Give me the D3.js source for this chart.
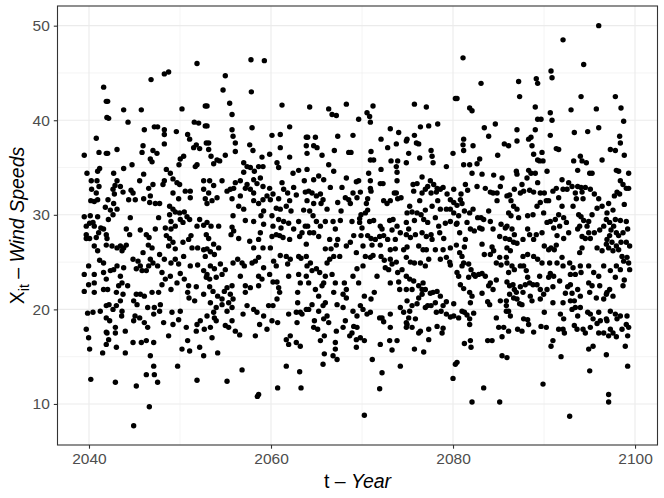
<!DOCTYPE html>
<html>
<head>
<meta charset="utf-8">
<script src="https://cdn.jsdelivr.net/npm/d3@7/dist/d3.min.js"></script>
<style>
  body { margin: 0; background: #fff; }
  text { font-family: "Liberation Sans", Arial, sans-serif; }
</style>
</head>
<body>
<div id="chart"></div>
<script>
// axis breaks
var xTicks = [2040, 2060, 2080, 2100];
var xMinor = [2050, 2070, 2090];
var yTicks = [10, 20, 30, 40, 50];
var yMinor = [15, 25, 35, 45];

var windPoints = [
  [2041.61,43.5],[2041.9,42.0],[2041.97,40.3],[2040.8,38.1],[2039.48,36.3],[2041.1,36.6],[2041.9,36.5],
  [2039.78,34.4],[2040.95,34.6],[2041.17,34.9],[2040.25,33.6],[2040.88,33.6],[2040.29,32.7],[2041.1,33.0],
  [2040.8,32.3],[2040.2,31.5],[2040.58,31.4],[2040.95,31.6],[2041.8,30.8],[2039.48,29.8],[2040.14,29.9],
  [2040.95,29.8],[2040.44,29.2],[2040.07,29.1],[2040.58,28.8],[2039.7,28.8],[2041.3,28.6],[2041.06,28.1],
  [2039.7,27.9],[2039.7,27.5],[2040.07,27.5],[2040.8,27.6],[2041.9,27.9],[2041.6,28.5],[2041.9,26.8],
  [2040.58,26.7],[2040.95,26.2],[2041.17,25.2],[2041.6,24.9],[2039.96,24.6],[2039.48,23.7],[2040.58,23.7],
  [2041.6,23.9],[2041.9,23.2],[2040.58,22.8],[2039.96,22.6],[2039.48,21.9],[2040.58,21.8],[2041.6,22.1],
  [2041.9,20.4],[2041.24,19.8],[2040.44,19.7],[2039.85,19.6],[2041.9,19.1],[2039.7,17.9],[2041.9,17.6],
  [2039.96,17.0],[2041.9,16.3],[2040.07,15.8],[2041.5,15.4],[2040.2,12.6],
  [2046.82,44.3],[2042.05,42.0],[2043.81,41.1],[2045.75,41.1],[2042.16,40.2],[2044.29,39.8],[2046.08,39.0],
  [2047.18,39.3],[2042.05,36.5],[2043.08,36.9],[2045.94,37.3],[2045.83,36.6],[2047.03,36.8],[2046.74,35.9],
  [2044.73,35.3],[2043.81,34.9],[2046.93,35.6],[2042.71,34.4],[2046.01,34.3],[2043.08,33.6],[2042.86,33.1],
  [2043.45,33.0],[2045.57,33.6],[2042.64,32.7],[2047.03,33.2],[2046.56,32.8],[2042.79,32.2],[2043.74,32.4],
  [2044.62,32.6],[2044.84,32.3],[2046.74,32.0],[2042.09,31.6],[2044.36,31.6],[2045.09,31.6],[2046.01,31.7],
  [2046.67,31.3],[2047.29,31.2],[2042.71,31.2],[2042.35,30.5],[2043.08,30.6],[2042.64,30.0],[2044.54,29.7],
  [2042.13,29.5],[2044.1,28.5],[2044.47,27.9],[2045.64,28.4],[2046.3,27.9],[2047.29,28.5],[2046.6,27.6],
  [2041.98,27.5],[2042.53,26.7],[2043.45,26.7],[2043.08,26.5],[2043.81,26.5],[2044.1,26.8],[2043.63,26.2],
  [2046.52,26.8],[2046.93,26.5],[2045.94,26.0],[2045.39,25.1],[2046.74,25.3],[2047.03,24.9],[2046.56,24.6],
  [2045.64,24.6],[2044.84,25.3],[2045.2,24.3],[2043.08,24.6],[2043.81,24.4],[2042.35,24.1],[2042.71,24.2],
  [2045.83,24.1],[2046.3,24.1],[2043.45,23.5],[2043.63,22.8],[2044.25,22.5],[2043.26,22.5],[2042.05,22.1],
  [2043.01,21.8],[2043.74,21.6],[2043.45,20.9],[2045.2,21.6],[2045.64,21.6],[2046.93,21.8],[2046.08,21.4],
  [2042.2,20.5],[2042.64,20.0],[2043.01,20.4],[2043.63,19.8],[2044.91,20.9],[2045.28,20.5],[2046.45,20.2],
  [2047.18,20.2],[2043.59,19.3],[2045.06,19.3],[2045.57,19.1],[2044.91,18.8],[2046.08,18.6],[2047.11,19.5],
  [2046.45,18.1],[2042.27,18.8],[2042.9,18.1],[2041.98,17.5],[2042.9,17.5],[2043.99,17.7],[2042.16,16.8],
  [2044.84,16.5],[2045.75,16.5],[2046.3,16.7],[2047.11,16.5],[2043.01,16.0],[2043.99,15.4],[2046.74,15.1],
  [2047.11,14.0],[2046.3,13.1],[2042.9,12.3],[2045.2,11.9],[2047.18,13.1],[2046.63,9.7],[2044.91,7.7],
  [2051.87,46.0],[2048.28,44.9],[2048.75,45.1],[2050.22,41.2],[2052.78,41.5],[2047.54,39.3],[2048.28,39.0],
  [2049.6,38.8],[2051.57,39.8],[2052.05,39.7],[2052.78,39.4],[2048.28,38.5],[2048.28,37.5],[2050.84,38.5],
  [2051.06,38.0],[2051.79,37.4],[2051.5,37.1],[2052.16,37.0],[2052.89,37.6],[2047.47,36.5],[2050.4,36.2],
  [2050.03,35.9],[2049.89,35.3],[2051.87,35.3],[2051.68,35.1],[2048.5,34.8],[2048.94,34.4],[2049.23,33.8],
  [2049.96,33.2],[2049.67,33.4],[2048.28,33.6],[2048.13,33.2],[2052.6,33.6],[2052.6,32.7],[2052.78,31.7],
  [2049.23,32.3],[2050.58,32.5],[2051.13,32.5],[2049.85,31.7],[2051.13,31.8],[2047.76,31.2],[2048.86,30.9],
  [2049.23,30.6],[2048.86,30.0],[2049.48,30.3],[2049.96,30.2],[2050.47,30.3],[2050.77,29.8],[2050.03,29.5],
  [2047.65,29.7],[2049.01,29.3],[2048.39,28.6],[2049.01,28.5],[2049.48,28.8],[2050.33,29.2],[2051.06,29.5],
  [2052.16,29.5],[2051.87,28.8],[2052.6,28.9],[2052.89,27.9],[2048.5,27.8],[2048.86,27.5],[2049.23,27.1],
  [2048.75,26.7],[2049.48,26.4],[2050.33,27.1],[2050.95,27.4],[2051.21,27.8],[2051.32,26.5],[2051.94,26.5],
  [2052.6,26.3],[2052.78,25.6],[2047.76,25.8],[2048.28,25.3],[2049.01,24.9],[2049.48,25.3],[2049.85,24.8],
  [2050.4,25.6],[2051.13,24.6],[2051.94,24.7],[2052.6,24.1],[2052.89,23.4],[2047.54,24.6],[2048.02,23.9],
  [2048.39,23.2],[2048.94,23.5],[2050.03,23.8],[2049.67,22.8],[2050.47,23.2],[2050.95,22.5],[2051.79,22.4],
  [2048.02,22.6],[2049.01,22.1],[2050.84,21.8],[2047.65,21.8],[2050.99,21.2],[2051.61,20.9],[2052.6,21.6],
  [2047.84,20.5],[2047.76,19.8],[2049.12,19.7],[2050.03,19.8],[2048.2,18.6],[2049.23,18.4],[2049.85,18.9],
  [2050.69,18.1],[2048.75,17.2],[2052.23,18.8],[2051.87,18.4],[2051.79,17.7],[2052.67,17.9],[2050.84,16.7],
  [2051.06,15.6],[2052.16,16.0],[2050.22,15.8],[2052.6,15.1],[2049.74,14.0],[2051.87,12.5],[2047.54,12.3],
  [2057.8,46.4],[2054.98,44.7],[2054.73,43.2],[2057.84,43.0],[2055.46,41.8],[2055.72,40.6],[2052.97,41.5],
  [2057.92,39.2],[2052.97,39.4],[2055.72,39.0],[2055.83,38.3],[2057.66,37.4],[2056.08,37.6],[2058.02,36.8],
  [2053.15,37.6],[2053.15,36.9],[2053.41,36.2],[2054.98,36.3],[2056.08,36.7],[2054.07,35.8],[2053.7,35.4],
  [2054.36,35.7],[2057.0,35.5],[2057.37,35.1],[2057.73,35.0],[2057.0,34.5],[2058.17,34.6],[2053.26,33.6],
  [2054.62,33.6],[2056.63,33.6],[2056.08,33.4],[2057.37,33.2],[2058.1,33.7],[2055.9,32.8],[2055.53,32.7],
  [2055.17,32.5],[2057.73,32.7],[2057.18,32.8],[2058.1,32.3],[2053.7,33.1],[2053.15,32.3],[2054.07,31.8],
  [2053.52,31.5],[2052.97,31.2],[2056.63,32.0],[2055.72,31.7],[2056.45,30.9],[2057.0,30.6],[2058.1,31.5],
  [2055.83,29.9],[2057.18,29.4],[2058.1,29.3],[2052.97,29.2],[2053.41,28.8],[2054.25,28.8],[2055.72,28.7],
  [2055.9,28.3],[2055.61,27.9],[2056.45,27.5],[2057.66,27.2],[2058.1,26.5],[2053.15,27.5],[2053.7,26.9],
  [2054.25,26.5],[2052.97,26.4],[2053.34,26.1],[2053.78,25.8],[2055.83,24.9],[2056.34,25.3],[2056.82,24.9],
  [2057.07,24.6],[2057.92,24.9],[2058.28,25.1],[2054.44,24.8],[2054.98,24.2],[2054.62,23.7],[2053.34,24.6],
  [2053.78,24.3],[2052.97,23.7],[2053.26,23.2],[2053.98,23.4],[2056.63,23.5],[2057.18,22.5],[2057.73,22.3],
  [2057.18,21.8],[2055.72,22.5],[2055.17,22.3],[2053.26,22.4],[2053.63,21.9],[2054.14,21.4],[2054.87,21.9],
  [2055.53,21.6],[2055.83,21.1],[2055.35,20.7],[2054.62,21.1],[2053.34,20.7],[2053.98,20.2],[2054.62,20.5],
  [2055.72,20.2],[2057.37,20.4],[2058.1,20.0],[2053.7,19.7],[2055.17,19.8],[2056.93,19.5],[2052.97,19.3],
  [2053.78,19.1],[2053.98,18.8],[2054.98,18.3],[2055.35,18.1],[2055.72,18.8],[2053.34,18.1],[2056.08,17.7],
  [2056.56,17.3],[2053.52,17.0],[2054.14,15.4],[2056.82,13.6],[2055.17,12.4],[2058.28,17.2],
  [2059.27,46.3],[2061.21,41.6],[2060.11,38.4],[2061.02,38.5],[2062.05,39.3],[2063.88,38.2],[2061.02,37.1],
  [2062.05,36.1],[2059.85,36.4],[2059.01,36.1],[2058.64,35.1],[2059.12,35.1],[2060.66,35.5],[2060.84,35.0],
  [2063.88,37.3],[2062.42,34.4],[2063.04,34.7],[2063.66,33.6],[2058.83,33.9],[2058.46,33.3],[2059.12,33.0],
  [2059.85,32.8],[2060.22,32.2],[2059.56,32.0],[2061.21,33.4],[2061.39,32.7],[2062.49,32.9],[2062.78,32.1],
  [2061.83,32.3],[2063.77,32.4],[2058.64,31.2],[2059.12,31.6],[2059.93,31.6],[2060.84,31.7],[2060.58,30.7],
  [2061.02,30.6],[2062.05,31.5],[2061.68,30.9],[2062.2,30.4],[2063.59,30.5],[2059.19,30.4],[2058.9,29.9],
  [2060.11,29.9],[2060.84,29.5],[2061.39,29.3],[2059.19,29.0],[2060.22,28.8],[2061.1,28.6],[2061.94,29.1],
  [2062.49,28.5],[2063.04,29.3],[2063.41,28.1],[2063.77,28.8],[2058.83,28.1],[2058.64,27.4],[2060.11,27.7],
  [2060.58,27.9],[2060.95,27.8],[2061.32,27.6],[2062.05,27.4],[2063.15,27.7],[2063.88,26.9],[2059.93,26.5],
  [2059.12,26.5],[2058.64,25.5],[2061.02,25.7],[2061.68,25.6],[2062.12,25.3],[2061.83,24.8],[2063.04,25.6],
  [2063.3,25.4],[2063.88,25.6],[2060.29,25.1],[2060.58,24.6],[2059.19,24.4],[2059.85,23.7],[2058.64,23.5],
  [2059.01,23.2],[2060.22,22.9],[2060.66,22.9],[2061.94,23.5],[2063.04,23.7],[2063.22,22.8],[2063.88,23.5],
  [2058.64,22.5],[2060.84,22.3],[2060.95,21.8],[2062.93,21.8],[2060.66,21.1],[2062.93,20.7],[2062.78,19.7],
  [2058.46,19.7],[2059.19,19.3],[2058.75,18.4],[2059.56,17.9],[2060.11,18.8],[2060.73,18.6],[2059.74,20.4],
  [2060.22,20.4],[2061.94,19.5],[2062.86,18.6],[2063.22,19.7],[2063.41,19.5],[2061.68,16.8],[2062.12,17.2],
  [2061.94,16.3],[2062.78,16.5],[2063.22,16.1],[2061.68,14.0],[2063.15,13.4],[2060.73,11.7],[2063.3,11.7],
  [2058.64,11.0],[2058.5,10.8],[2063.88,20.0],
  [2066.34,41.2],[2066.71,40.6],[2067.18,40.5],[2068.28,41.7],[2064.25,41.4],[2064.03,38.2],[2064.88,38.2],
  [2067.33,38.3],[2069.01,38.4],[2064.69,37.3],[2065.06,37.1],[2063.96,36.5],[2065.61,36.3],[2066.34,35.3],
  [2066.89,34.6],[2066.96,36.8],[2068.54,36.6],[2068.79,36.6],[2063.96,34.8],[2064.69,33.7],[2065.24,34.1],
  [2065.79,33.7],[2066.52,32.9],[2068.28,33.9],[2067.8,32.9],[2069.38,33.5],[2064.14,32.5],[2064.51,32.3],
  [2064.99,32.0],[2065.43,32.2],[2065.72,31.6],[2068.54,31.6],[2068.17,31.8],[2069.01,32.3],[2063.96,31.5],
  [2064.69,31.2],[2065.5,31.2],[2066.16,30.6],[2067.33,31.3],[2068.72,31.2],[2067.7,30.4],[2064.25,30.4],
  [2064.62,29.9],[2064.99,29.3],[2065.43,28.8],[2065.97,29.3],[2066.82,29.3],[2067.62,29.4],[2068.9,29.3],
  [2064.03,28.8],[2064.25,28.1],[2064.69,28.1],[2065.24,27.7],[2067.07,28.5],[2066.45,27.4],[2067.33,27.4],
  [2068.28,26.7],[2068.72,27.1],[2069.09,27.8],[2069.38,26.0],[2065.97,26.4],[2066.6,26.4],[2067.18,26.8],
  [2066.89,25.6],[2067.55,25.6],[2066.16,24.9],[2066.45,25.3],[2064.33,24.9],[2063.96,24.6],[2064.51,24.1],
  [2064.99,24.3],[2065.35,23.9],[2065.97,23.5],[2065.79,22.8],[2066.71,23.7],[2067.07,22.8],[2068.06,22.8],
  [2068.28,22.1],[2069.01,23.5],[2064.14,22.8],[2064.88,22.1],[2065.61,22.5],[2065.24,21.4],[2066.89,21.8],
  [2067.92,21.6],[2068.28,21.2],[2065.97,20.7],[2064.51,20.5],[2065.72,20.4],[2065.24,19.8],[2067.26,20.5],
  [2067.92,20.2],[2069.01,19.8],[2066.16,19.3],[2065.79,19.0],[2064.14,20.0],[2064.77,18.8],[2065.13,17.9],
  [2064.69,18.1],[2066.34,18.6],[2068.17,18.8],[2067.92,18.1],[2069.09,18.2],[2068.9,17.5],[2068.65,17.2],
  [2067.18,17.7],[2067.07,16.5],[2065.86,17.2],[2065.43,16.7],[2065.86,15.3],[2065.72,14.2],[2066.82,15.1],
  [2067.26,14.7],[2067.07,15.8],[2069.38,16.0],[2069.38,16.8],
  [2071.21,41.5],[2070.55,40.8],[2070.84,40.4],[2070.92,39.8],[2069.63,40.1],[2073.11,39.1],[2074.03,38.7],
  [2072.09,38.0],[2072.82,37.1],[2073.77,37.5],[2074.87,37.8],[2070.99,36.7],[2070.92,35.8],[2071.28,35.8],
  [2072.09,34.8],[2073.19,35.7],[2073.92,35.7],[2073.77,35.1],[2073.85,34.5],[2074.87,35.5],[2070.73,34.4],
  [2070.92,33.6],[2072.01,33.3],[2072.31,33.3],[2073.85,33.6],[2069.63,33.6],[2070.92,32.8],[2070.99,32.5],
  [2069.82,32.4],[2069.45,31.8],[2073.55,32.3],[2073.77,32.3],[2073.92,31.7],[2074.29,31.8],[2070.62,31.7],
  [2070.48,31.2],[2072.38,31.5],[2072.75,31.2],[2073.11,31.5],[2070.62,30.5],[2070.37,30.2],[2069.89,30.0],
  [2069.74,29.6],[2069.74,29.2],[2070.0,28.6],[2070.84,29.3],[2071.28,29.4],[2072.01,28.8],[2072.2,28.5],
  [2073.04,29.4],[2073.41,29.5],[2073.85,28.8],[2073.3,28.4],[2074.87,29.2],[2069.89,27.8],[2070.62,27.8],
  [2070.99,27.5],[2071.46,27.4],[2071.94,27.7],[2072.38,27.8],[2072.82,27.4],[2073.66,27.4],[2074.21,28.1],
  [2074.87,27.9],[2070.11,26.7],[2071.1,26.8],[2072.01,26.8],[2073.11,26.3],[2073.66,26.4],[2074.58,26.3],
  [2070.37,25.6],[2070.92,25.5],[2071.21,25.7],[2072.09,25.6],[2072.45,25.2],[2073.11,25.3],[2073.3,24.8],
  [2073.77,25.0],[2074.87,25.5],[2070.11,24.6],[2069.45,24.3],[2072.56,24.4],[2072.93,24.2],[2073.92,23.9],
  [2074.4,24.2],[2071.65,23.5],[2073.11,22.8],[2074.03,22.9],[2074.87,23.5],[2069.63,22.8],[2074.14,22.1],
  [2070.26,21.4],[2070.99,21.1],[2071.35,21.8],[2074.87,22.1],[2069.82,20.4],[2070.11,20.0],[2070.92,19.7],
  [2070.55,19.5],[2071.94,19.1],[2073.11,19.5],[2074.21,20.2],[2074.58,19.7],[2074.87,18.6],[2074.87,18.1],
  [2069.45,19.3],[2069.45,18.1],[2072.38,18.7],[2072.2,19.1],[2073.11,18.1],[2069.82,17.0],[2070.26,16.7],
  [2073.04,16.7],[2073.3,15.7],[2073.85,16.7],[2072.01,16.3],[2071.13,14.7],[2072.2,13.3],[2074.21,14.0],
  [2071.94,11.6],[2070.26,8.8],
  [2075.76,41.7],[2077.07,41.4],[2080.26,42.3],[2076.42,39.3],[2077.33,39.4],[2078.32,39.6],[2074.95,38.0],
  [2075.76,38.4],[2075.98,37.6],[2076.23,37.5],[2075.13,36.5],[2076.34,36.0],[2077.59,36.8],[2077.7,36.2],
  [2077.81,35.5],[2079.27,35.1],[2080.0,36.5],[2076.6,34.0],[2075.61,33.2],[2076.05,33.3],[2075.68,32.5],
  [2076.6,32.3],[2076.96,32.7],[2077.22,33.0],[2077.51,33.6],[2077.88,33.2],[2078.25,32.8],[2078.61,32.7],
  [2077.59,32.3],[2078.17,32.4],[2078.91,32.9],[2079.35,32.2],[2079.71,31.6],[2080.08,32.7],[2076.34,31.5],
  [2080.08,31.3],[2075.24,30.9],[2075.5,30.3],[2074.95,30.2],[2076.05,30.2],[2076.49,30.0],[2076.96,30.5],
  [2077.7,30.9],[2078.32,31.5],[2078.61,30.6],[2079.27,30.6],[2079.71,30.6],[2080.08,30.2],[2075.76,29.4],
  [2076.78,29.5],[2077.22,29.2],[2078.06,29.7],[2078.43,28.8],[2079.16,29.1],[2079.71,29.3],[2080.37,29.0],
  [2075.13,28.5],[2075.87,27.9],[2075.32,27.6],[2076.6,28.1],[2077.07,27.7],[2077.59,27.9],[2078.54,28.1],
  [2078.98,27.5],[2077.7,27.4],[2074.95,26.6],[2076.23,26.7],[2076.71,26.3],[2077.07,26.3],[2078.06,26.3],
  [2078.91,26.3],[2079.71,26.5],[2080.37,26.8],[2079.27,25.5],[2079.64,25.0],[2075.32,25.0],[2075.76,24.9],
  [2076.42,24.9],[2076.96,24.6],[2077.33,25.3],[2078.61,25.3],[2079.71,24.7],[2075.24,23.2],[2075.68,23.0],
  [2076.23,22.5],[2076.6,22.1],[2076.96,22.1],[2076.71,22.8],[2075.5,22.1],[2077.51,21.7],[2077.81,21.8],
  [2078.25,21.9],[2078.61,21.4],[2079.27,20.8],[2080.08,20.6],[2076.23,21.2],[2076.6,21.6],[2078.06,20.7],
  [2078.91,20.4],[2074.95,20.9],[2075.5,20.4],[2076.05,20.6],[2076.96,20.2],[2077.22,20.4],[2077.59,20.4],
  [2078.17,19.7],[2078.69,19.8],[2079.27,19.5],[2079.71,19.2],[2080.08,19.3],[2075.24,19.8],[2075.13,19.1],
  [2074.95,18.4],[2075.87,19.0],[2076.42,17.7],[2076.23,17.5],[2075.5,18.1],[2077.33,17.9],[2078.25,18.2],
  [2078.8,17.5],[2077.33,16.8],[2075.76,15.8],[2076.78,15.5],[2080.26,14.2],[2080.0,12.7],[2078.91,18.0],
  [2081.1,46.6],[2083.08,43.9],[2080.44,42.3],[2081.83,41.3],[2082.09,41.0],[2083.44,39.2],[2084.65,39.6],
  [2083.92,38.3],[2081.17,38.0],[2082.2,37.3],[2081.1,37.4],[2081.17,36.8],[2085.64,37.5],[2084.91,36.3],
  [2082.93,35.9],[2082.64,35.4],[2081.17,35.3],[2081.83,35.3],[2082.09,34.4],[2083.19,34.3],[2084.47,34.2],
  [2085.39,33.9],[2085.2,33.0],[2084.84,32.3],[2085.93,32.0],[2081.36,33.2],[2081.61,32.6],[2082.64,33.0],
  [2084.1,32.4],[2083.55,32.8],[2084.4,32.3],[2084.84,31.5],[2080.88,32.2],[2080.81,31.6],[2080.99,31.2],
  [2080.44,31.0],[2082.2,30.6],[2083.92,30.4],[2082.71,29.7],[2083.08,29.7],[2083.37,29.5],[2084.1,29.3],
  [2084.4,28.5],[2085.28,29.0],[2085.75,28.6],[2080.62,29.9],[2081.25,30.4],[2081.83,30.2],[2080.44,29.1],
  [2081.54,29.2],[2081.91,28.5],[2082.34,28.3],[2082.93,28.6],[2083.19,28.5],[2080.73,28.1],[2081.36,27.4],
  [2081.25,26.6],[2085.13,27.7],[2085.75,27.5],[2083.19,26.9],[2083.44,25.8],[2084.1,25.8],[2084.47,26.2],
  [2084.76,24.9],[2085.28,24.7],[2085.13,25.5],[2085.86,25.5],[2084.29,26.6],[2080.73,26.0],[2080.99,25.6],
  [2081.17,24.9],[2080.99,24.6],[2081.72,24.8],[2081.98,24.2],[2082.27,23.7],[2082.45,23.5],[2082.82,23.7],
  [2083.19,23.8],[2083.55,23.5],[2081.72,23.4],[2080.62,23.5],[2080.44,23.9],[2080.81,22.6],[2081.17,22.2],
  [2081.83,21.8],[2082.09,21.4],[2081.91,20.7],[2083.19,21.7],[2083.92,22.5],[2084.1,22.8],[2084.4,22.1],
  [2084.76,23.1],[2083.81,20.8],[2084.03,20.5],[2085.2,20.9],[2085.86,20.9],[2085.86,20.4],[2085.86,19.8],
  [2080.62,19.1],[2080.99,19.8],[2081.25,19.7],[2081.54,19.4],[2081.83,19.0],[2081.83,18.4],[2082.27,19.6],
  [2084.76,19.1],[2085.02,18.1],[2085.57,18.1],[2085.39,17.1],[2081.25,16.4],[2081.91,16.7],[2081.98,16.0],
  [2083.81,16.7],[2084.29,16.7],[2085.39,15.1],[2080.44,14.4],[2083.37,11.7],[2082.09,10.2],[2085.13,10.2],
  [2090.77,45.2],[2090.88,44.5],[2087.21,44.1],[2089.15,44.4],[2089.3,43.9],[2087.32,42.5],[2089.04,41.4],
  [2089.3,40.1],[2089.67,40.1],[2090.69,40.8],[2090.88,40.0],[2091.35,37.0],[2087.03,39.0],[2087.03,37.8],
  [2086.11,37.3],[2088.57,38.2],[2089.04,39.0],[2088.31,38.0],[2088.68,37.3],[2088.86,36.4],[2089.3,35.8],
  [2089.78,36.6],[2089.52,35.7],[2089.89,35.7],[2090.69,38.4],[2090.33,34.6],[2086.96,34.6],[2087.03,34.3],
  [2088.31,34.7],[2088.57,34.4],[2089.04,34.4],[2089.3,33.4],[2088.13,33.9],[2087.58,33.2],[2087.76,32.5],
  [2087.4,32.3],[2086.74,32.7],[2086.22,32.1],[2086.37,31.5],[2086.66,30.9],[2088.42,32.6],[2088.86,32.4],
  [2089.59,32.3],[2090.03,32.3],[2090.25,31.5],[2090.51,31.5],[2090.98,32.5],[2091.35,32.8],[2086.11,30.2],
  [2087.03,30.6],[2086.37,29.9],[2087.21,29.7],[2088.2,29.9],[2088.79,30.0],[2089.59,31.3],[2089.23,30.9],
  [2089.96,30.2],[2090.33,29.2],[2090.69,29.3],[2091.06,28.6],[2091.24,29.5],[2085.93,28.8],[2086.48,28.5],
  [2086.74,27.9],[2086.22,27.4],[2086.66,27.1],[2087.03,27.0],[2087.69,27.4],[2088.2,28.5],[2088.42,27.9],
  [2088.86,27.4],[2089.15,27.9],[2089.78,28.1],[2090.03,26.7],[2090.51,26.3],[2090.77,26.5],[2091.13,26.3],
  [2091.35,26.8],[2085.93,26.5],[2086.3,26.2],[2087.69,25.6],[2088.2,25.8],[2088.86,25.6],[2089.3,25.3],
  [2089.78,24.9],[2090.62,24.9],[2085.93,24.9],[2086.48,24.6],[2086.74,24.2],[2086.11,23.9],[2087.4,24.6],
  [2087.76,24.6],[2088.05,24.1],[2088.2,23.4],[2088.42,22.8],[2088.79,22.6],[2089.23,22.6],[2089.52,23.5],
  [2090.69,23.8],[2090.51,23.4],[2091.06,23.5],[2085.93,22.9],[2086.22,22.5],[2086.59,22.6],[2086.74,22.1],
  [2086.96,21.8],[2087.4,22.4],[2087.69,21.8],[2087.94,22.6],[2089.59,22.1],[2089.96,21.6],[2090.33,22.1],
  [2090.98,22.4],[2086.22,21.6],[2086.66,21.2],[2087.03,21.1],[2087.32,20.6],[2087.58,20.5],[2088.49,21.4],
  [2088.68,20.9],[2089.59,21.1],[2090.98,20.7],[2086.11,19.8],[2086.3,19.3],[2090.03,19.7],[2087.76,19.0],
  [2088.2,18.9],[2088.31,18.4],[2087.1,17.9],[2087.58,17.7],[2086.11,17.7],[2088.86,17.6],[2089.67,18.2],
  [2090.25,18.1],[2090.98,16.7],[2090.77,16.1],[2085.93,14.9],[2089.89,12.1],
  [2096.01,50.0],[2092.09,48.5],[2094.36,45.9],[2094.07,42.5],[2092.97,41.1],[2095.75,41.2],[2093.33,38.7],
  [2094.8,38.8],[2096.01,39.2],[2091.61,36.9],[2093.99,36.2],[2093.26,35.7],[2094.18,35.7],[2093.7,34.7],
  [2094.65,35.5],[2095.02,34.4],[2096.38,35.8],[2095.28,34.4],[2091.98,33.7],[2092.71,33.4],[2093.08,33.0],
  [2092.09,32.7],[2091.61,31.8],[2092.53,32.7],[2093.44,32.3],[2093.7,33.0],[2094.07,32.9],[2094.18,32.4],
  [2094.54,32.9],[2095.09,32.7],[2095.53,32.2],[2096.01,31.7],[2094.29,31.7],[2093.55,31.7],[2091.98,30.9],
  [2093.19,30.9],[2093.81,30.0],[2094.07,29.8],[2094.36,29.4],[2094.91,29.3],[2095.28,30.0],[2095.83,30.7],
  [2096.38,30.9],[2096.85,29.5],[2091.61,30.0],[2092.16,29.7],[2092.46,29.2],[2091.72,28.8],[2092.71,28.1],
  [2093.92,28.8],[2094.73,28.8],[2094.91,28.1],[2095.53,28.1],[2096.12,28.4],[2096.56,28.8],[2091.43,27.8],
  [2092.16,27.5],[2093.7,28.5],[2094.18,27.7],[2094.54,27.5],[2095.09,27.5],[2094.18,26.5],[2093.92,26.0],
  [2095.83,26.5],[2096.38,26.2],[2096.85,26.9],[2091.98,25.5],[2091.43,24.9],[2092.09,24.6],[2092.82,24.9],
  [2093.19,24.4],[2093.99,24.6],[2094.91,24.6],[2095.46,23.9],[2096.01,23.5],[2096.56,24.6],[2092.9,23.7],
  [2093.44,23.7],[2094.07,23.9],[2091.72,23.0],[2092.6,22.4],[2092.9,22.6],[2093.08,21.7],[2092.35,21.7],
  [2093.7,22.1],[2093.99,21.4],[2094.91,22.8],[2095.28,22.5],[2096.12,22.5],[2096.85,21.6],[2092.09,20.7],
  [2092.9,20.9],[2093.33,20.9],[2093.44,20.2],[2093.99,20.2],[2095.02,21.8],[2095.75,21.2],[2096.56,21.1],
  [2091.8,19.5],[2093.08,20.0],[2093.7,19.3],[2094.8,19.7],[2095.09,19.5],[2095.39,19.0],[2096.01,19.7],
  [2096.19,18.8],[2095.83,18.5],[2096.85,19.0],[2092.16,19.0],[2092.09,17.9],[2093.33,18.3],[2093.63,17.9],
  [2094.29,17.9],[2095.09,18.1],[2096.01,17.5],[2096.56,17.5],[2092.24,17.5],[2094.54,17.5],[2091.61,17.9],
  [2094.91,15.8],[2095.39,16.1],[2091.87,15.0],[2096.85,15.2],[2095.02,13.5],[2092.82,8.7],
  [2097.84,42.5],[2098.46,41.3],[2098.75,39.9],[2098.31,38.3],[2098.39,37.6],[2097.29,36.9],[2097.84,36.8],
  [2098.82,36.3],[2098.2,34.6],[2097.95,34.7],[2099.3,34.4],[2098.39,33.6],[2098.68,33.2],[2099.04,32.8],
  [2098.02,32.4],[2097.73,32.0],[2099.3,32.8],[2098.31,32.2],[2097.1,31.2],[2098.82,31.1],[2096.92,30.2],
  [2097.58,30.5],[2097.84,29.5],[2097.21,29.2],[2097.65,28.8],[2098.39,29.4],[2099.04,29.3],[2099.19,28.5],
  [2097.36,28.4],[2097.95,28.1],[2098.68,28.1],[2097.21,27.8],[2098.2,27.8],[2096.92,27.4],[2097.47,27.1],
  [2097.95,26.7],[2098.46,27.1],[2099.04,27.1],[2099.41,26.7],[2097.1,26.5],[2097.58,26.2],[2098.2,26.3],
  [2099.12,25.5],[2098.57,25.6],[2098.75,25.1],[2099.3,24.9],[2099.41,24.2],[2097.29,24.1],[2097.95,24.6],
  [2098.39,24.2],[2097.84,23.4],[2098.82,23.1],[2098.68,22.5],[2097.21,22.1],[2097.58,21.4],[2096.92,21.8],
  [2097.29,19.8],[2097.84,19.5],[2098.39,19.3],[2098.02,19.0],[2099.12,19.3],[2099.04,18.4],[2099.3,18.1],
  [2098.57,17.9],[2096.92,18.8],[2097.29,17.9],[2097.58,17.5],[2097.1,17.2],[2099.19,17.2],[2098.93,16.1],
  [2097.95,17.1],[2099.19,14.0],[2097.1,11.0],[2097.1,10.2]
];

var svgWidth = 664,
  svgHeight = 498,
  margin = {
    top: 6,
    right: 6.5,
    bottom: 53,
    left: 57.5
  },
  width = svgWidth - margin.left - margin.right,
  height = svgHeight - margin.top - margin.bottom;

var svg = d3.select('#chart')
  .append('svg')
  .attr('width', svgWidth)
  .attr('height', svgHeight);

var g = svg.append('g')
  .attr('transform', 'translate(' + margin.left + ',' + margin.top + ')');

// domains match ggplot's 5% padding around the data
var x = d3.scaleLinear().domain([2036.54, 2102.47]).range([0, width]);
var y = d3.scaleLinear().domain([5.66, 52.08]).range([height, 0]);

// grid
g.selectAll('.vminor').data(xMinor).enter().append('line')
  .attr('x1', function(d) { return x(d); }).attr('x2', function(d) { return x(d); })
  .attr('y1', 0).attr('y2', height)
  .attr('stroke', '#ebebeb').attr('stroke-width', 0.55);
g.selectAll('.hminor').data(yMinor).enter().append('line')
  .attr('y1', function(d) { return y(d); }).attr('y2', function(d) { return y(d); })
  .attr('x1', 0).attr('x2', width)
  .attr('stroke', '#ebebeb').attr('stroke-width', 0.55);
g.selectAll('.vmajor').data(xTicks).enter().append('line')
  .attr('x1', function(d) { return x(d); }).attr('x2', function(d) { return x(d); })
  .attr('y1', 0).attr('y2', height)
  .attr('stroke', '#ebebeb').attr('stroke-width', 1.1);
g.selectAll('.hmajor').data(yTicks).enter().append('line')
  .attr('y1', function(d) { return y(d); }).attr('y2', function(d) { return y(d); })
  .attr('x1', 0).attr('x2', width)
  .attr('stroke', '#ebebeb').attr('stroke-width', 1.1);

// points
g.selectAll('circle')
  .data(windPoints)
  .enter().append('circle')
  .attr('cx', function(d) { return x(d[0]); })
  .attr('cy', function(d) { return y(d[1]); })
  .attr('r', 2.7)
  .attr('fill', '#000');

// panel border
g.append('rect')
  .attr('width', width).attr('height', height)
  .attr('fill', 'none').attr('stroke', '#333333').attr('stroke-width', 1.1);

// axes
var xAxis = g.append('g')
  .attr('transform', 'translate(0,' + height + ')')
  .call(d3.axisBottom(x).tickValues(xTicks).tickSize(3.7).tickPadding(4).tickFormat(d3.format('d')));
var yAxis = g.append('g')
  .call(d3.axisLeft(y).tickValues(yTicks).tickSize(3.7).tickPadding(4));

[xAxis, yAxis].forEach(function(a) {
  a.select('.domain').remove();
  a.selectAll('.tick line').attr('stroke', '#333333').attr('stroke-width', 1.1);
  a.selectAll('.tick text')
    .attr('fill', '#4d4d4d')
    .style('font-size', '15.5px')
    .style('font-family', '"Liberation Sans", Arial, sans-serif');
});

// axis titles
var xTitle = svg.append('text')
  .attr('x', margin.left + width / 2)
  .attr('y', 488)
  .attr('text-anchor', 'middle')
  .style('font-size', '19.5px')
  .attr('fill', '#000');
xTitle.append('tspan').text('t \u2013 ');
xTitle.append('tspan').style('font-style', 'italic').text('Year');

var yTitle = svg.append('text')
  .attr('transform', 'translate(24,' + (margin.top + height / 2) + ') rotate(-90)')
  .attr('text-anchor', 'middle')
  .style('font-size', '19.5px')
  .attr('fill', '#000');
yTitle.append('tspan').text('X');
yTitle.append('tspan').attr('dy', 5).style('font-size', '14px').text('it');
yTitle.append('tspan').attr('dy', -5).text(' \u2013 ');
yTitle.append('tspan').style('font-style', 'italic').text('Wind Speeds');
</script>
</body>
</html>
